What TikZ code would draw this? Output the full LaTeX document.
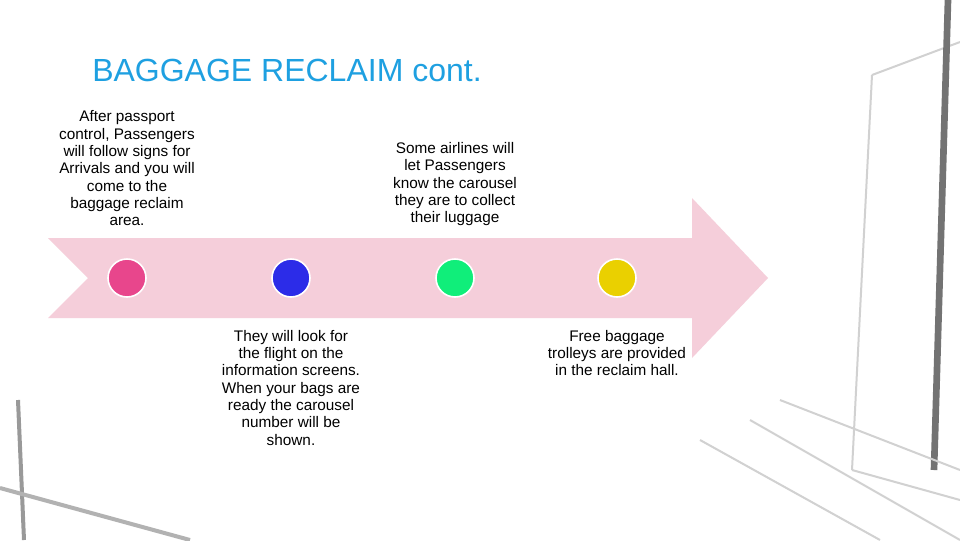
\documentclass[tikz,border=0pt]{standalone}
\usepackage{fontspec}
\setmainfont{Liberation Sans}
\usetikzlibrary{positioning}
\definecolor{titleblue}{RGB}{30,160,225}
\definecolor{bandpink}{RGB}{245,206,218}
\definecolor{dotpink}{RGB}{232,70,140}
\definecolor{dotblue}{RGB}{44,44,232}
\definecolor{dotgreen}{RGB}{16,238,122}
\definecolor{dotyellow}{RGB}{234,208,0}
\begin{document}
\begin{tikzpicture}[
    x=0.75pt, y=-0.75pt,
    node distance=24pt,
    dot/.style={circle, draw=white, line width=1.2pt, minimum size=28.5pt, inner sep=0pt},
    step text/.style={align=center, inner sep=0pt, font=\fontsize{11.5}{13}\selectfont},
    frame/.style={draw=black!18, line width=1.5pt},
  ]
  \useasboundingbox (0,0) rectangle (960,540);
  \fill[white] (0,0) rectangle (960,540);

  % faint window frames of the backdrop
  \draw[frame] (872,75) -- (852,470);
  \draw[frame] (872,75) -- (960,42);
  \draw[frame] (852,470) -- (960,500);
  \draw[draw=black!55, line width=5pt] (948,0) -- (934,470);
  \draw[frame] (750,420) -- (960,540);
  \draw[frame] (700,440) -- (880,540);
  \draw[frame] (780,400) -- (960,470);
  \draw[draw=black!40, line width=3pt] (18,400) -- (24,540);
  \draw[draw=black!30, line width=3pt] (0,488) -- (190,540);

  % the timeline arrow
  \fill[bandpink] (48,238) -- (692,238) -- (692,198) -- (768,278)
    -- (692,358) -- (692,318) -- (48,318) -- (88,278) -- cycle;

  \node[anchor=base west, inner sep=0pt, text=titleblue, font=\fontsize{24}{28}\selectfont]
    (title) at (92,81) {BAGGAGE RECLAIM cont.};

  \node[dot, fill=dotpink]   (c1) at (127,278) {};
  \node[dot, fill=dotblue]   (c2) at (291,278) {};
  \node[dot, fill=dotgreen]  (c3) at (455,278) {};
  \node[dot, fill=dotyellow] (c4) at (617,278) {};

  \node[step text] (t1) [above=of c1]
    {After passport\\control, Passengers\\will follow signs for\\Arrivals and you will\\come to the\\baggage reclaim\\area.};
  \node[step text] (t2) [above=of c3]
    {Some airlines will\\let Passengers\\know the carousel\\they are to collect\\their luggage};
  \node[step text] (t3) [below=of c2]
    {They will look for\\the flight on the\\information screens.\\When your bags are\\ready the carousel\\number will be\\shown.};
  \node[step text] (t4) [below=of c4]
    {Free baggage\\trolleys are provided\\in the reclaim hall.};
\end{tikzpicture}
\end{document}
